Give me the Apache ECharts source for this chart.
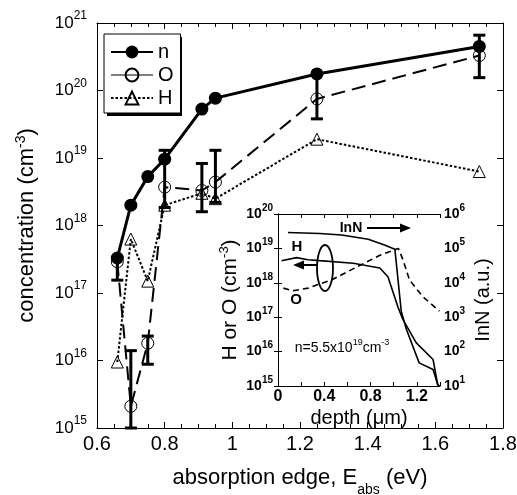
<!DOCTYPE html>
<html>
<head>
<meta charset="utf-8">
<script src="https://cdn.jsdelivr.net/npm/echarts@6/dist/echarts.min.js"></script>
<style>
html, body { margin: 0; padding: 0; background: #fff; }
#chart { width: 517px; height: 495px; }
</style>
</head>
<body>
<div id="chart"></div>
<script>
// 主图数据：吸收边 (eV) 与浓度 (cm^-3)
const edge = [0.66, 0.70, 0.75, 0.80, 0.91, 0.95, 1.25, 1.73];
const nConc = [3.3e17, 2.0e18, 5.3e18, 9.6e18, 5.3e19, 7.7e19, 1.76e20, 4.5e20];
const oConc = [2.9e17, 2.1e15, 1.8e16, 3.7e18, 3.3e18, 4.4e18, 7.5e19, 3.3e20];
const hConc = [9.5e15, 6.3e17, 1.5e17, 2.0e18, 3.0e18, 2.5e18, 1.9e19, 6.3e18];
const errLow = [1.55e17, 1e15, 8.8e15, 1.85e18, 1.6e18, 2.2e18, 3.8e19, 1.55e20];
const errHigh = [3.4e17, 1.4e16, 2.3e16, 1.3e19, 8.3e18, 1.3e19, 1.8e20, 6.6e20];

// 插图数据：深度 (um) 剖面
const innDepth = [0.086, 0.36, 0.55, 0.78, 0.92, 1.01, 1.065, 1.11, 1.22, 1.34, 1.38, 1.395];
const innSignal = [2.9e5, 2.7e5, 2.45e5, 1.85e5, 1.25e5, 9.5e4, 1.5e3, 4.4e2, 47, 30, 11, 10];
const hDepth = [0.03, 0.16, 0.26, 0.36, 0.65, 0.88, 0.95, 1.036, 1.08, 1.195, 1.34, 1.38, 1.395];
const hProfile = [4.4e18, 5.4e18, 4.7e18, 4.4e18, 3.7e18, 2.7e18, 1.5e18, 2e17, 8.5e16, 1.8e16, 5.9e15, 1.1e15, 1e15];
const oDepth = [0.046, 0.13, 0.26, 0.46, 0.69, 0.89, 1.04, 1.08, 1.137, 1.25, 1.395];
const oProfile = [7e17, 5.9e17, 7e17, 1.2e18, 3e18, 6.5e18, 1e19, 4.7e18, 1.2e18, 4e17, 1.5e17];

const FONT = 'Liberation Sans, Arial, sans-serif';

function pairs(xs, ys) {
    return xs.map((x, i) => [x, ys[i]]);
}

function powLabel(v) {
    return '{b|10}{s|' + Math.round(Math.log10(v)) + '}';
}

let chart = echarts.init(document.getElementById('chart'));

const mainRich = {
    b: { fontSize: 17, lineHeight: 26, fontFamily: FONT, color: '#000' },
    s: { fontSize: 12, lineHeight: 12, verticalAlign: 'top', fontFamily: FONT, color: '#000' }
};
const insetRich = {
    b: { fontSize: 14, lineHeight: 22, fontWeight: 'bold', fontFamily: FONT, color: '#000' },
    s: { fontSize: 10, lineHeight: 10, verticalAlign: 'top', fontWeight: 'bold', fontFamily: FONT, color: '#000' }
};

const axisLine = { show: true, lineStyle: { color: '#000', width: 1 } };

let option = {
    animation: false,
    backgroundColor: '#fff',
    grid: [
        { left: 97, top: 23, width: 406, height: 405, outerBoundsMode: 'none' },
        { left: 278, top: 214, width: 162, height: 172, outerBoundsMode: 'none', show: true, backgroundColor: '#fff', borderWidth: 0, z: 10 }
    ],
    legend: {
        data: [
            { name: 'n' },
            { name: 'O', lineStyle: { type: 'solid', width: 1.2 } },
            { name: 'H' }
        ],
        orient: 'vertical',
        left: 104,
        top: 34,
        itemWidth: 42,
        itemHeight: 16,
        itemGap: 3,
        padding: [8, 7, 5, 6],
        backgroundColor: '#fff',
        borderColor: '#000',
        borderWidth: 1,
        textStyle: { fontSize: 20, color: '#000', fontFamily: FONT }
    },
    xAxis: [
        {
            type: 'value', gridIndex: 0, min: 0.6, max: 1.8, interval: 0.2,
            axisLine: axisLine,
            axisTick: { inside: true, length: 6, lineStyle: { color: '#000' } },
            minorTick: { show: true, splitNumber: 4, length: 4, lineStyle: { color: '#000' } },
            splitLine: { show: false },
            axisLabel: { fontSize: 20, margin: 6, color: '#000', fontFamily: FONT },
            name: '{b|absorption edge, E}{sub|abs}{b| (eV)}',
            nameLocation: 'middle',
            nameGap: 29,
            nameTextStyle: {
                rich: {
                    b: { fontSize: 22, lineHeight: 22, fontFamily: FONT, color: '#000' },
                    sub: { fontSize: 14, lineHeight: 14, padding: [24, 0, 0, 0], fontFamily: FONT, color: '#000' }
                }
            }
        },
        {
            type: 'value', gridIndex: 0, position: 'top', min: 0.6, max: 1.8, interval: 0.2,
            axisLine: axisLine,
            axisTick: { inside: true, length: 6, lineStyle: { color: '#000' } },
            minorTick: { show: true, splitNumber: 4, length: 4, lineStyle: { color: '#000' } },
            splitLine: { show: false },
            axisLabel: { show: false }
        },
        {
            type: 'value', gridIndex: 1, min: 0, max: 1.4, interval: 0.4, z: 11,
            axisLine: axisLine,
            axisTick: { inside: true, length: 4, lineStyle: { color: '#000' } },
            minorTick: { show: true, splitNumber: 2, length: 4, lineStyle: { color: '#000' } },
            splitLine: { show: false },
            axisLabel: { fontSize: 16, fontWeight: 'bold', margin: 3, color: '#000', fontFamily: FONT, showMaxLabel: false },
            name: 'depth (μm)',
            nameLocation: 'middle',
            nameGap: 21,
            nameTextStyle: { fontSize: 20, lineHeight: 22, color: '#000', fontFamily: FONT }
        },
        {
            type: 'value', gridIndex: 1, position: 'top', min: 0, max: 1.4, interval: 0.4, z: 11,
            axisLine: axisLine,
            axisTick: { inside: true, length: 4, lineStyle: { color: '#000' } },
            minorTick: { show: true, splitNumber: 2, length: 4, lineStyle: { color: '#000' } },
            splitLine: { show: false },
            axisLabel: { show: false }
        }
    ],
    yAxis: [
        {
            type: 'log', gridIndex: 0, logBase: 10, min: 1e15, max: 1e21, splitNumber: 6,
            axisLine: axisLine,
            axisTick: { inside: true, length: 6, lineStyle: { color: '#000' } },
            splitLine: { show: false },
            axisLabel: { formatter: powLabel, rich: mainRich, margin: 10 },
            name: '{b|concentration (cm}{s|-3}{b|)}',
            nameLocation: 'middle',
            nameRotate: 90,
            nameGap: 57,
            nameTextStyle: {
                rich: {
                    b: { fontSize: 22, lineHeight: 26, fontFamily: FONT, color: '#000' },
                    s: { fontSize: 14, lineHeight: 14, verticalAlign: 'top', fontFamily: FONT, color: '#000' }
                }
            }
        },
        {
            type: 'log', gridIndex: 0, position: 'right', logBase: 10, min: 1e15, max: 1e21, splitNumber: 6,
            axisLine: axisLine,
            axisTick: { inside: true, length: 6, lineStyle: { color: '#000' } },
            splitLine: { show: false },
            axisLabel: { show: false }
        },
        {
            type: 'log', gridIndex: 1, logBase: 10, min: 1e15, max: 1e20, splitNumber: 5, z: 11,
            axisLine: axisLine,
            axisTick: { inside: true, length: 4, lineStyle: { color: '#000' } },
            splitLine: { show: false },
            axisLabel: { formatter: powLabel, rich: insetRich, margin: 5 },
            name: '{b|H or O (cm}{s|-3}{b|)}',
            nameLocation: 'middle',
            nameRotate: 90,
            nameGap: 36,
            nameTextStyle: {
                rich: {
                    b: { fontSize: 21, lineHeight: 24, fontFamily: FONT, color: '#000' },
                    s: { fontSize: 13, lineHeight: 13, verticalAlign: 'top', fontFamily: FONT, color: '#000' }
                }
            }
        },
        {
            type: 'log', gridIndex: 1, position: 'right', logBase: 10, min: 1e1, max: 1e6, splitNumber: 5, z: 11,
            axisLine: axisLine,
            axisTick: { inside: true, length: 4, lineStyle: { color: '#000' } },
            splitLine: { show: false },
            axisLabel: { formatter: powLabel, rich: insetRich, margin: 4 },
            name: 'InN (a.u.)',
            nameLocation: 'middle',
            nameRotate: 90,
            nameGap: 32,
            nameTextStyle: { fontSize: 20, lineHeight: 22, color: '#000', fontFamily: FONT }
        }
    ],
    series: [
        {
            name: 'n', type: 'line', xAxisIndex: 0, yAxisIndex: 0,
            data: pairs(edge, nConc),
            symbol: 'circle', symbolSize: 13,
            itemStyle: { color: '#000' },
            lineStyle: { color: '#000', width: 3 }
        },
        {
            name: 'O', type: 'line', xAxisIndex: 0, yAxisIndex: 0,
            data: pairs(edge, oConc),
            symbol: 'circle', symbolSize: 12,
            itemStyle: { color: 'rgba(0,0,0,0)', borderColor: '#000', borderWidth: 1 },
            lineStyle: { color: '#000', width: 2, type: [14, 7] }
        },
        {
            name: 'H', type: 'line', xAxisIndex: 0, yAxisIndex: 0,
            data: pairs(edge, hConc),
            symbol: 'triangle', symbolSize: 12,
            itemStyle: { color: 'rgba(0,0,0,0)', borderColor: '#000', borderWidth: 1 },
            lineStyle: { color: '#000', width: 2, type: [2.5, 2] }
        },
        {
            name: 'error', type: 'custom', xAxisIndex: 0, yAxisIndex: 0,
            data: edge.map((x, i) => [x, errLow[i], errHigh[i]]),
            renderItem: function (params, api) {
                let lo = api.coord([api.value(0), api.value(1)]);
                let hi = api.coord([api.value(0), api.value(2)]);
                let style = { stroke: '#000', lineWidth: 3 };
                return {
                    type: 'group',
                    children: [
                        { type: 'line', shape: { x1: lo[0], y1: lo[1], x2: hi[0], y2: hi[1] }, style: style },
                        { type: 'line', shape: { x1: lo[0] - 6, y1: lo[1], x2: lo[0] + 6, y2: lo[1] }, style: style },
                        { type: 'line', shape: { x1: hi[0] - 6, y1: hi[1], x2: hi[0] + 6, y2: hi[1] }, style: style }
                    ]
                };
            },
            z: 3
        },
        {
            name: 'InN', type: 'line', xAxisIndex: 2, yAxisIndex: 3,
            data: pairs(innDepth, innSignal),
            showSymbol: false, z: 12,
            lineStyle: { color: '#000', width: 1.6 }
        },
        {
            name: 'H depth', type: 'line', xAxisIndex: 2, yAxisIndex: 2,
            data: pairs(hDepth, hProfile),
            showSymbol: false, z: 12,
            lineStyle: { color: '#000', width: 1.6 }
        },
        {
            name: 'O depth', type: 'line', xAxisIndex: 2, yAxisIndex: 2,
            data: pairs(oDepth, oProfile),
            showSymbol: false, z: 12,
            lineStyle: { color: '#000', width: 1.6, type: [6, 4] }
        }
    ],
    graphic: [
        // 图例阴影
        { type: 'rect', z: 3, shape: { x: 107, y: 37, width: 75, height: 79 }, style: { fill: '#000' } },
        { type: 'text', z: 20, x: 351, y: 228, style: { text: 'InN', font: 'bold 14px ' + FONT, fill: '#000', align: 'center', verticalAlign: 'middle' } },
        { type: 'line', z: 20, shape: { x1: 367, y1: 228, x2: 402, y2: 228 }, style: { stroke: '#000', lineWidth: 2 } },
        { type: 'polygon', z: 20, shape: { points: [[411, 228], [400, 223.5], [400, 232.5]] }, style: { fill: '#000' } },
        { type: 'text', z: 20, x: 297, y: 247, style: { text: 'H', font: 'bold 15px ' + FONT, fill: '#000', align: 'center', verticalAlign: 'middle' } },
        { type: 'line', z: 20, shape: { x1: 302, y1: 265, x2: 318, y2: 265 }, style: { stroke: '#000', lineWidth: 2 } },
        { type: 'polygon', z: 20, shape: { points: [[293, 265], [304, 260.5], [304, 269.5]] }, style: { fill: '#000' } },
        { type: 'ellipse', z: 20, shape: { cx: 325, cy: 268, rx: 8, ry: 23 }, style: { fill: 'none', stroke: '#000', lineWidth: 1.8 } },
        { type: 'text', z: 20, x: 296, y: 300, style: { text: 'O', font: 'bold 15px ' + FONT, fill: '#000', align: 'center', verticalAlign: 'middle' } },
        {
            type: 'text', z: 20, x: 342, y: 348,
            style: {
                text: '{b|n=5.5x10}{s|19}{b|cm}{s|-3}',
                align: 'center', verticalAlign: 'middle',
                rich: {
                    b: { fontSize: 14, lineHeight: 20, fontFamily: FONT, fill: '#000' },
                    s: { fontSize: 9, lineHeight: 9, verticalAlign: 'top', fontFamily: FONT, fill: '#000' }
                }
            }
        }
    ]
};

chart.setOption(option);
</script>
</body>
</html>
